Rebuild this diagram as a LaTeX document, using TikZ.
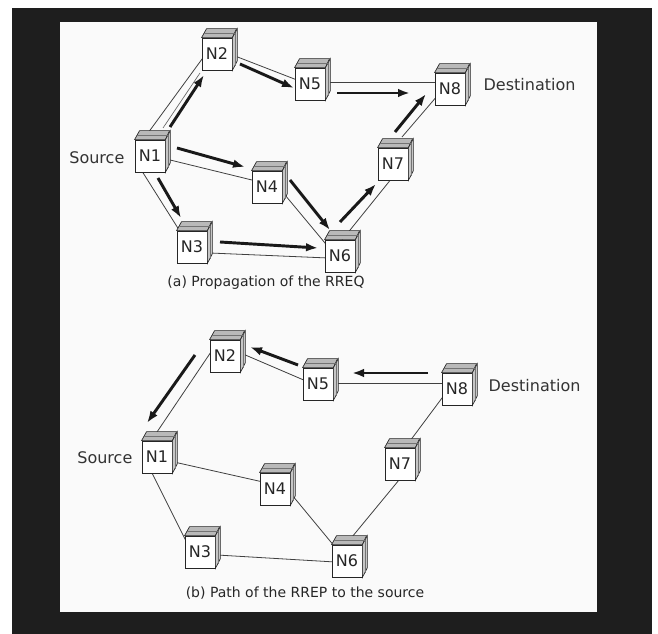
\documentclass[tikz,border=0pt]{standalone}
\usepackage{fontspec}
\setmainfont{DejaVu Sans}
\usetikzlibrary{arrows.meta,calc}
\pgfdeclarelayer{bg}
\pgfdeclarelayer{lk}
\pgfsetlayers{bg,lk,main}
\definecolor{framec}{HTML}{1E1E1E}
\definecolor{panelc}{HTML}{FAFAFA}
\tikzset{
  cubef/.style={draw=black!85, line width=0.6pt, fill=white, minimum width=22.5pt,
    minimum height=24pt, inner sep=0pt, text=black!85, font=\fontsize{12}{12}\selectfont},
  topface/.style={fill=gray!55, draw=black!85, line width=0.5pt},
  sideface/.style={fill=gray!45, draw=black!85, line width=0.5pt},
  stripe/.style={draw=black!55, line width=0.4pt},
  link/.style={draw=black!75, line width=0.6pt},
  flow/.style={draw=black!90, line width=2.2pt, -{Latex[length=9pt,width=6.5pt]}},
  companion/.style={draw=black!60, line width=0.5pt},
  lbl/.style={font=\fontsize{12}{14}\selectfont, text=black!80, inner sep=0pt},
  captext/.style={font=\fontsize{10.5}{12}\selectfont, text=black!85, inner sep=0pt}
}
\newcommand\mycube[3]{%
  \node[cubef] (#1) at (#2) {#3};
  \path[topface] (#1.north west) -- ++(5,-9) -- ++(30,0) -- (#1.north east) -- cycle;
  \path[sideface] (#1.north east) -- ++(5,-9) -- ++(0,32) -- (#1.south east) -- cycle;
  \draw[stripe] ($(#1.north east)+(2.5,-4.5)$) -- ($(#1.south east)+(2.5,-4.5)$);
  \draw[stripe] ($(#1.north west)+(2.5,-4.5)$) -- ($(#1.north east)+(2.5,-4.5)$);
}
\begin{document}
\begin{tikzpicture}[x=0.75pt,y=-0.75pt]
\useasboundingbox (0,0) rectangle (658,634);
\begin{pgfonlayer}{bg}
  \fill[white] (0,0) rectangle (658,634);
  \fill[framec] (12,8) rectangle (652,634);
  \fill[panelc] (60,22) rectangle (597,612);
\end{pgfonlayer}

% ---------- (a) ----------
\mycube{a1}{150,156}{N1}
\mycube{a2}{217,54}{N2}
\mycube{a3}{192,247}{N3}
\mycube{a4}{267,187}{N4}
\mycube{a5}{310,84}{N5}
\mycube{a6}{340,256}{N6}
\mycube{a7}{393,164}{N7}
\mycube{a8}{450,89}{N8}

\begin{pgfonlayer}{lk}
  \draw[link] ($(a1)+(-2,-23)$) -- ($(a2)+(-12,1)$);
  \draw[link] ($(a2)+(18,2)$) -- ($(a5)+(-13,-4)$);
  \draw[link] ($(a5)+(16,-2)$) -- ($(a8)+(-13,-7)$);
  \draw[link] ($(a1)+(16,3)$) -- ($(a4)+(-11,-6)$);
  \draw[link] ($(a1)+(-10,12)$) -- ($(a3)+(-11,-14)$);
  \draw[link] ($(a3)+(18,6)$) -- ($(a6)+(-12,2)$);
  \draw[link] ($(a4)+(13,2)$) -- ($(a6)+(-10,-7)$);
  \draw[link] ($(a6)+(-2,-11)$) -- ($(a7)+(-1,14)$);
  \draw[link] ($(a7)+(9,-27)$) -- ($(a8)+(-12,6)$);
\end{pgfonlayer}

\draw[companion] ($(a1)+(13,-28)$) -- ($(a2)+(-17,19)$);
\draw[flow] ($(a1)+(20,-29)$) -- ($(a2)+(-13,21)$);
\draw[flow] ($(a2)+(23,10)$) -- ($(a5)+(-16,4)$);
\draw[flow] ($(a5)+(27,9)$) -- ($(a8)+(-40,4)$);
\draw[flow] ($(a1)+(27,-8)$) -- ($(a4)+(-22,-20)$);
\draw[flow] ($(a1)+(8,22)$) -- ($(a3)+(-11,-29)$);
\draw[flow] ($(a3)+(28,-5)$) -- ($(a6)+(-22,-8)$);
\draw[flow] ($(a4)+(23,-7)$) -- ($(a6)+(-10,-26)$);
\draw[flow] ($(a6)+(0,-34)$) -- ($(a7)+(-17,20)$);
\draw[flow] ($(a7)+(2,-32)$) -- ($(a8)+(-24,5)$);

\node[lbl, anchor=east] (srcA) at ($(a1.west)+(-10,2)$) {Source};
\node[lbl, anchor=west] (dstA) at ($(a8.east)+(18,-4)$) {Destination};
\node[captext] (capA) at (266,283) {(a) Propagation of the RREQ};

% ---------- (b) ----------
\mycube{b1}{157,457}{N1}
\mycube{b2}{225,356}{N2}
\mycube{b3}{200,552}{N3}
\mycube{b4}{275,489}{N4}
\mycube{b5}{318,384}{N5}
\mycube{b6}{347,561}{N6}
\mycube{b7}{400,464}{N7}
\mycube{b8}{457,389}{N8}

\begin{pgfonlayer}{lk}
  \draw[link] ($(b1)+(0,-25)$) -- ($(b2)+(-12,-7)$);
  \draw[link] ($(b2)+(18,-2)$) -- ($(b5)+(-12,-3)$);
  \draw[link] ($(b5)+(17,-1)$) -- ($(b8)+(-12,-6)$);
  \draw[link] ($(b1)+(17,5)$) -- ($(b4)+(-12,-7)$);
  \draw[link] ($(b1)+(-7,12)$) -- ($(b3)+(-11,-5)$);
  \draw[link] ($(b3)+(17,3)$) -- ($(b6)+(-12,1)$);
  \draw[link] ($(b4)+(17,6)$) -- ($(b6)+(-12,-14)$);
  \draw[link] ($(b6)+(5,-24)$) -- ($(b7)+(-1,16)$);
  \draw[link] ($(b7)+(10,-23)$) -- ($(b8)+(-12,5)$);
\end{pgfonlayer}

\draw[flow] ($(b8)+(-29,-16)$) -- ($(b5)+(34,-11)$);
\draw[flow] ($(b5)+(-20,-19)$) -- ($(b2)+(25,-9)$);
\draw[flow] ($(b2)+(-30,-1)$) -- ($(b1)+(-10,-34)$);

\node[lbl, anchor=east] (srcB) at ($(b1.west)+(-9,1)$) {Source};
\node[lbl, anchor=west] (dstB) at ($(b8.east)+(16,-3)$) {Destination};
\node[captext] (capB) at (305,593) {(b) Path of the RREP to the source};
\end{tikzpicture}
\end{document}
